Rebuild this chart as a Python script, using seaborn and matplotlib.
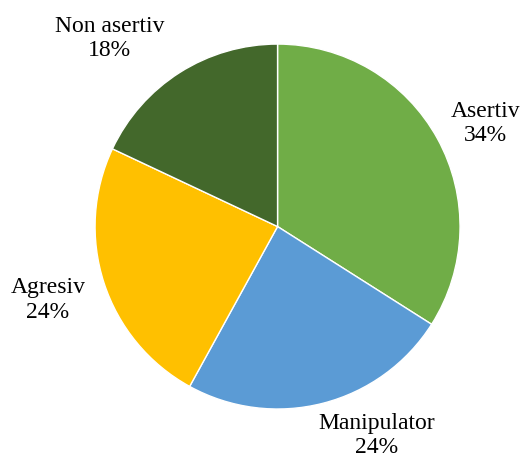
import matplotlib
matplotlib.use("Agg")
import matplotlib.pyplot as plt
import seaborn as sns
import numpy as np

sns.set_theme(style="white")
plt.rcParams['font.family'] = ['Liberation Serif', 'DejaVu Serif']

categories = ["Asertiv", "Manipulator", "Agresiv", "Non asertiv"]
values = [34, 24, 24, 18]
colors = ["#70AD47", "#5B9BD5", "#FFC000", "#43682B"]
label_dist = [1.276, 1.262, 1.319, 1.386]
label_angle_shift = [-2.2, 11.2, -0.5, 9.1]

fig = plt.figure(figsize=(5.25, 4.6), dpi=100)
ax = fig.add_axes([0, 0, 1, 1])
wedges, _ = ax.pie(values, colors=colors, startangle=90, counterclock=False,
                   wedgeprops=dict(edgecolor="white", linewidth=1.0))
total = sum(values)
for w, cat, v, d, s in zip(wedges, categories, values, label_dist, label_angle_shift):
    ang = np.deg2rad((w.theta1 + w.theta2) / 2 + s)
    ax.text(d * np.cos(ang), d * np.sin(ang), f"{cat}\n{round(100*v/total)}%",
            ha="center", va="center", fontsize=17, color="#000000", linespacing=1.2)
ax.set_xlim(-1.521, 1.356)
ax.set_ylim(-1.274, 1.247)
ax.set_aspect('auto')
ax.axis("off")
fig.savefig("out.png", dpi=100, facecolor="white")
